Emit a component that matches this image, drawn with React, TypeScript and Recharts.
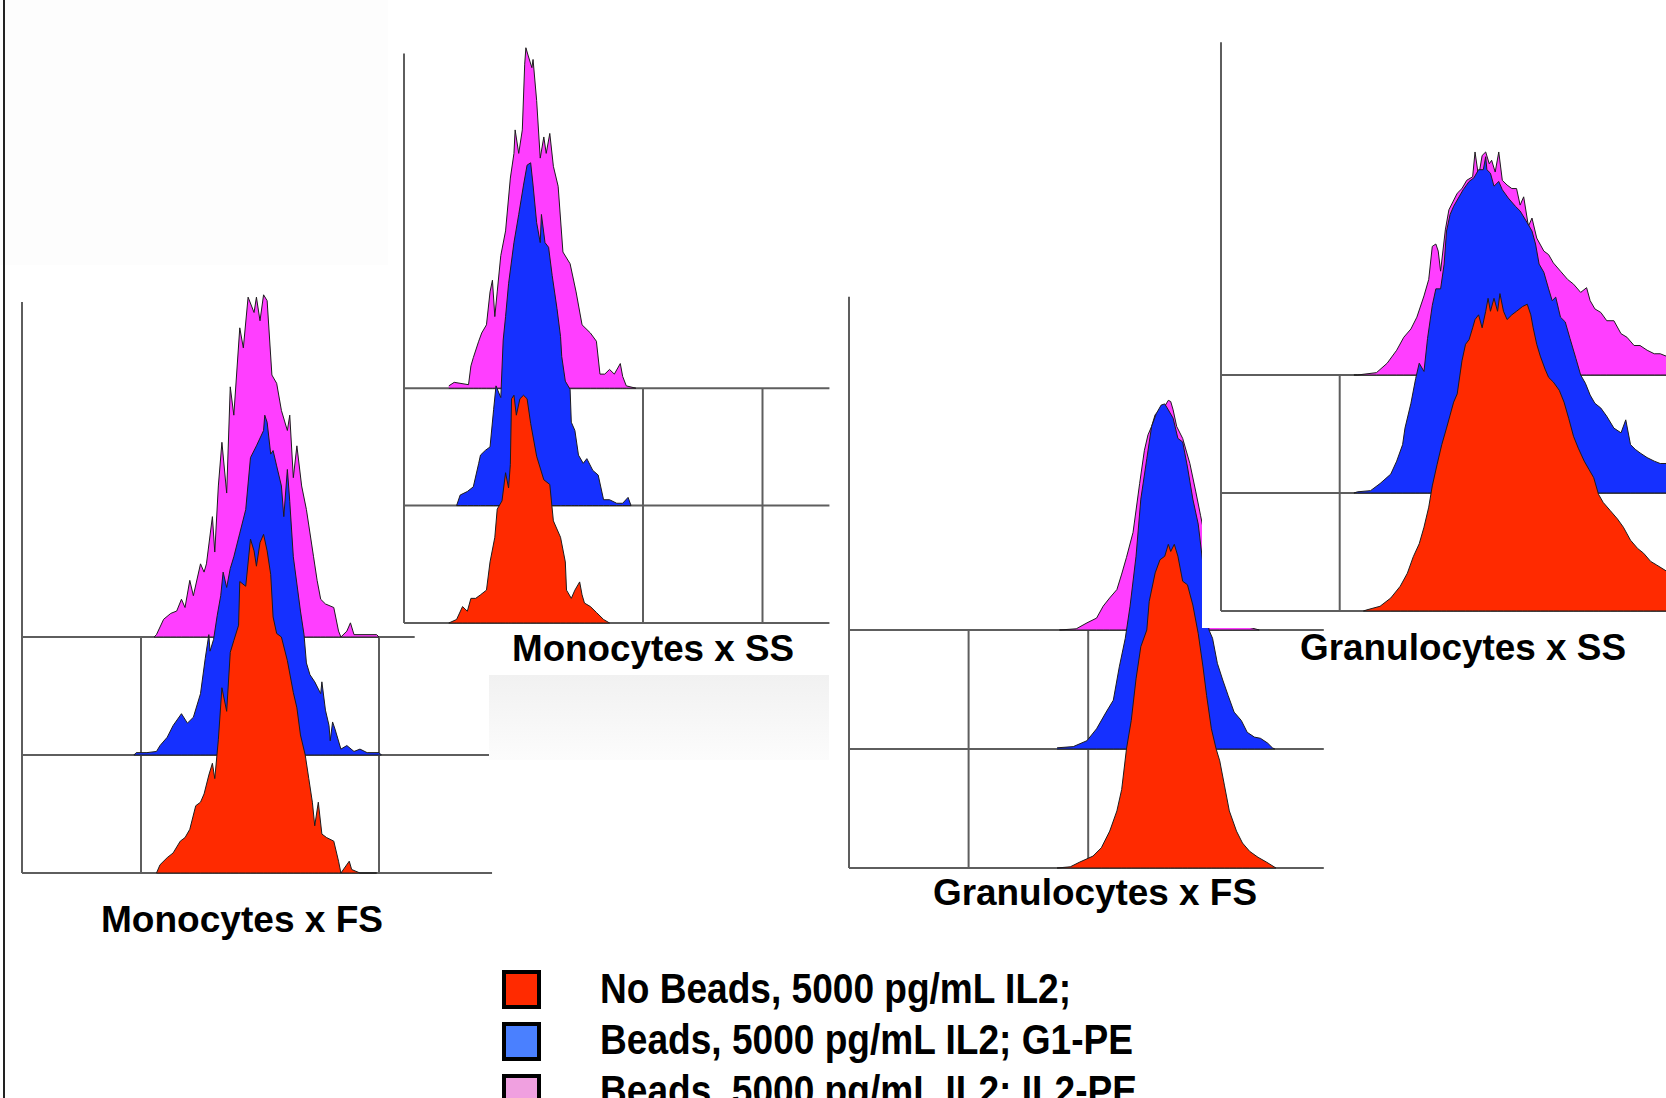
import React from 'react';
import { AreaChart, Area, XAxis, YAxis, ReferenceLine } from 'recharts';

const RED = '#ff2a00';
const BLUE = '#1530ff';
const PINK = '#ff3eff';
const GRID = '#5e5e5e';
const OUTLINE = '#1c1c1c';

type Pt = [number, number];

// x = log decade, y = events (100 events = one band of the overlay)
const monoFsNone: Pt[] = [
  [1.13, 0], [1.16, 7], [1.22, 13], [1.27, 17], [1.33, 27], [1.37, 30], [1.41, 37], [1.46, 57], [1.5, 60],
  [1.53, 67], [1.57, 83], [1.6, 93], [1.62, 80], [1.65, 113], [1.68, 157], [1.72, 137], [1.75, 187],
  [1.78, 197], [1.82, 210], [1.83, 247], [1.88, 243], [1.92, 283], [1.95, 273], [1.97, 260], [2.0, 280],
  [2.03, 287], [2.06, 273], [2.09, 253], [2.11, 217], [2.14, 203], [2.18, 200], [2.23, 180], [2.28, 153],
  [2.31, 140], [2.34, 117], [2.38, 100], [2.41, 80], [2.44, 60], [2.46, 40], [2.49, 60], [2.52, 33],
  [2.56, 30], [2.62, 27], [2.66, 10], [2.68, 0], [2.75, 10], [2.77, 3], [2.84, 0], [2.98, 0],
];
const monoFsG1: Pt[] = [
  [0.94, 0], [0.96, 2], [1.05, 2], [1.13, 3], [1.16, 8], [1.22, 15], [1.27, 25], [1.34, 35], [1.39, 27],
  [1.44, 32], [1.5, 52], [1.54, 82], [1.57, 102], [1.58, 88], [1.61, 98], [1.64, 118], [1.67, 135],
  [1.69, 155], [1.72, 142], [1.75, 158], [1.78, 168], [1.83, 188], [1.88, 208], [1.92, 252], [1.97, 262],
  [2.03, 275], [2.04, 288], [2.06, 282], [2.09, 255], [2.11, 258], [2.14, 245], [2.18, 228], [2.2, 202],
  [2.23, 242], [2.25, 215], [2.28, 168], [2.34, 122], [2.37, 102], [2.39, 78], [2.42, 68], [2.46, 62],
  [2.51, 52], [2.52, 62], [2.55, 38], [2.58, 25], [2.59, 12], [2.61, 28], [2.63, 22], [2.68, 5], [2.73, 8],
  [2.79, 3], [2.84, 5], [2.9, 2], [3.0, 2], [3.02, 0],
];
const monoFsIl2: Pt[] = [
  [1.11, 0], [1.13, 2], [1.19, 15], [1.25, 20], [1.3, 22], [1.34, 32], [1.37, 25], [1.41, 48], [1.44, 35],
  [1.5, 62], [1.53, 55], [1.55, 62], [1.6, 102], [1.62, 72], [1.65, 128], [1.68, 165], [1.72, 122],
  [1.75, 212], [1.78, 188], [1.83, 262], [1.86, 245], [1.9, 288], [1.95, 275], [1.97, 288], [2.0, 268],
  [2.03, 290], [2.06, 285], [2.1, 222], [2.14, 215], [2.18, 192], [2.23, 175], [2.25, 188], [2.28, 135],
  [2.31, 162], [2.35, 128], [2.39, 108], [2.45, 68], [2.48, 48], [2.51, 32], [2.55, 28], [2.62, 25],
  [2.66, 5], [2.68, 0], [2.73, 5], [2.76, 12], [2.79, 2], [2.98, 2], [3.0, 0],
];

const monoSsNone: Pt[] = [
  [0.375, 0], [0.44, 3], [0.49, 14], [0.53, 10], [0.56, 21], [0.6, 21], [0.64, 24], [0.69, 28], [0.72, 52],
  [0.76, 73], [0.78, 97], [0.82, 104], [0.85, 128], [0.875, 115], [0.89, 135], [0.9, 191], [0.92, 194],
  [0.94, 177], [0.97, 191], [1.0, 194], [1.03, 191], [1.06, 170], [1.11, 142], [1.17, 122], [1.22, 118],
  [1.25, 87], [1.31, 73], [1.35, 52], [1.36, 28], [1.4, 21], [1.43, 28], [1.47, 35], [1.49, 24], [1.51, 17],
  [1.56, 14], [1.61, 9], [1.67, 3], [1.72, 0],
];
const monoSsG1: Pt[] = [
  [0.44, 0], [0.47, 9], [0.53, 12], [0.58, 16], [0.625, 36], [0.64, 43], [0.68, 47], [0.72, 50], [0.75, 82],
  [0.77, 102], [0.81, 92], [0.83, 141], [0.85, 161], [0.875, 189], [0.92, 224], [0.96, 248], [1.0, 273],
  [1.03, 290], [1.06, 292], [1.08, 273], [1.11, 241], [1.14, 224], [1.15, 248], [1.18, 224], [1.21, 220],
  [1.24, 196], [1.28, 168], [1.31, 144], [1.32, 127], [1.35, 106], [1.39, 99], [1.4, 71], [1.43, 64],
  [1.46, 43], [1.5, 36], [1.53, 40], [1.58, 30], [1.625, 26], [1.67, 5], [1.72, 5], [1.78, 2], [1.83, 2],
  [1.875, 7], [1.9, 0],
];
const monoSsIl2: Pt[] = [
  [0.375, 2], [0.42, 5], [0.54, 3], [0.56, 19], [0.58, 26], [0.625, 40], [0.65, 47], [0.69, 54], [0.72, 82],
  [0.74, 92], [0.76, 61], [0.78, 82], [0.81, 113], [0.85, 134], [0.89, 179], [0.92, 200], [0.93, 220],
  [0.96, 200], [0.99, 220], [1.01, 276], [1.02, 290], [1.04, 283], [1.07, 273], [1.08, 280], [1.11, 245],
  [1.14, 196], [1.17, 214], [1.19, 200], [1.22, 217], [1.25, 189], [1.29, 172], [1.33, 116], [1.39, 106],
  [1.44, 82], [1.49, 54], [1.56, 47], [1.61, 40], [1.64, 12], [1.68, 12], [1.72, 16], [1.76, 12],
  [1.81, 21], [1.83, 10], [1.86, 2], [1.94, 0],
];

const granFsNone: Pt[] = [
  [1.74, 0], [1.85, 1], [1.93, 5], [2.04, 10], [2.11, 17], [2.18, 31], [2.24, 48], [2.28, 66], [2.32, 100],
  [2.36, 124], [2.4, 159], [2.44, 186], [2.49, 200], [2.51, 224], [2.56, 248], [2.6, 259], [2.64, 262],
  [2.67, 272], [2.69, 266], [2.72, 272], [2.75, 262], [2.79, 241], [2.83, 238], [2.875, 221], [2.92, 197],
  [2.96, 169], [2.99, 145], [3.03, 117], [3.07, 100], [3.1, 90], [3.14, 69], [3.18, 48], [3.24, 31],
  [3.29, 21], [3.35, 14], [3.42, 9], [3.49, 5], [3.57, 0],
];
const granFsG1: Pt[] = [
  [1.74, 1], [1.875, 2], [1.99, 7], [2.07, 17], [2.15, 31], [2.21, 41], [2.26, 69], [2.31, 93], [2.35, 120],
  [2.4, 162], [2.44, 210], [2.49, 244], [2.53, 271], [2.57, 282], [2.61, 289], [2.64, 290], [2.67, 285],
  [2.71, 278], [2.75, 261], [2.79, 258], [2.83, 237], [2.875, 210], [2.92, 189], [2.96, 155], [2.99, 127],
  [3.01, 100], [3.04, 93], [3.08, 72], [3.125, 58], [3.17, 45], [3.22, 31], [3.28, 24], [3.33, 14],
  [3.39, 10], [3.44, 9], [3.5, 5], [3.54, 1], [3.56, 0],
];
const granFsIl2: Pt[] = [
  [1.76, 0], [1.9, 1], [1.99, 6], [2.07, 10], [2.125, 20], [2.18, 27], [2.24, 34], [2.28, 47], [2.32, 61],
  [2.375, 82], [2.43, 123], [2.47, 151], [2.5, 164], [2.53, 171], [2.56, 181], [2.6, 185], [2.64, 188],
  [2.67, 193], [2.69, 192], [2.71, 185], [2.74, 171], [2.79, 161], [2.85, 140], [2.9, 116], [2.94, 96],
  [3.01, 61], [3.1, 34], [3.21, 13], [3.32, 3], [3.43, 0],
];

const granSsNone: Pt[] = [
  [1.2, 0], [1.23, 1], [1.34, 4], [1.43, 11], [1.51, 21], [1.57, 32], [1.62, 46], [1.67, 57], [1.71, 71],
  [1.75, 88], [1.78, 106], [1.82, 124], [1.86, 141], [1.9, 155], [1.93, 166], [1.96, 177], [1.99, 184],
  [2.03, 212], [2.06, 226], [2.09, 230], [2.12, 240], [2.14, 247], [2.17, 251], [2.2, 240], [2.23, 254],
  [2.25, 265], [2.27, 254], [2.3, 265], [2.33, 254], [2.35, 269], [2.38, 254], [2.41, 247], [2.45, 251],
  [2.49, 254], [2.54, 258], [2.58, 260], [2.61, 251], [2.63, 240], [2.66, 226], [2.69, 216], [2.73, 205],
  [2.76, 198], [2.8, 194], [2.85, 187], [2.89, 177], [2.93, 163], [2.97, 148], [3.01, 138], [3.06, 127],
  [3.1, 120], [3.14, 113], [3.18, 99], [3.22, 92], [3.28, 85], [3.34, 78], [3.39, 71], [3.45, 60],
  [3.51, 53], [3.56, 49], [3.62, 42], [3.67, 39], [3.75, 34], [3.85, 28], [3.95, 22],
];
const granSsG1: Pt[] = [
  [1.12, 0], [1.15, 1], [1.26, 2], [1.34, 8], [1.43, 16], [1.48, 27], [1.53, 41], [1.55, 55], [1.6, 76],
  [1.64, 97], [1.67, 110], [1.71, 103], [1.74, 131], [1.78, 159], [1.81, 173], [1.85, 173], [1.88, 194],
  [1.9, 222], [1.93, 236], [1.96, 243], [2.0, 250], [2.04, 257], [2.09, 264], [2.13, 267], [2.17, 274],
  [2.21, 274], [2.23, 285], [2.24, 274], [2.27, 271], [2.3, 260], [2.34, 264], [2.37, 257], [2.42, 250],
  [2.48, 243], [2.52, 239], [2.58, 229], [2.62, 222], [2.65, 211], [2.68, 194], [2.72, 187], [2.76, 173],
  [2.79, 163], [2.82, 166], [2.86, 149], [2.9, 145], [2.94, 131], [2.99, 114], [3.03, 100], [3.07, 93],
  [3.11, 83], [3.15, 76], [3.2, 72], [3.25, 65], [3.31, 55], [3.37, 51], [3.41, 62], [3.45, 41], [3.49, 37],
  [3.53, 34], [3.59, 30], [3.65, 27], [3.7, 25], [3.75, 25], [3.85, 20], [3.95, 15],
];
const granSsIl2: Pt[] = [
  [1.12, 0], [1.15, 0], [1.23, 1], [1.31, 2], [1.4, 10], [1.48, 21], [1.54, 32], [1.6, 39], [1.65, 49],
  [1.71, 67], [1.75, 81], [1.78, 109], [1.81, 111], [1.83, 105], [1.85, 88], [1.89, 123], [1.92, 140],
  [1.99, 154], [2.03, 158], [2.07, 165], [2.12, 168], [2.14, 189], [2.17, 168], [2.2, 186], [2.23, 189],
  [2.26, 179], [2.28, 182], [2.31, 172], [2.34, 189], [2.37, 165], [2.41, 161], [2.45, 158], [2.49, 158],
  [2.52, 144], [2.55, 151], [2.59, 126], [2.62, 133], [2.66, 116], [2.72, 105], [2.76, 102], [2.8, 95],
  [2.86, 88], [2.92, 81], [2.97, 77], [3.03, 70], [3.08, 74], [3.11, 63], [3.15, 56], [3.2, 53], [3.25, 46],
  [3.31, 46], [3.37, 35], [3.42, 32], [3.48, 25], [3.53, 25], [3.59, 21], [3.65, 18], [3.7, 18], [3.75, 16],
  [3.85, 12], [3.95, 8],
];

const titles = ['Monocytes x FS', 'Monocytes x SS', 'Granulocytes x FS', 'Granulocytes x SS'];
const legendLabels = [
  'No Beads, 5000 pg/mL IL2;',
  'Beads, 5000 pg/mL IL2; G1-PE',
  'Beads, 5000 pg/mL IL2; IL2-PE',
];
const legendColors = ['#ff2a00', '#4a80ff', '#f0a0e0'];

const PAD = 4;

function toRows(pts: Pt[], offset: number) {
  return pts.map(([x, c]) => ({ x, v: [offset, offset + c / 100] }));
}

interface PanelProps {
  left: number;
  bottom: number;
  unit: number;
  band: number;
  red: Pt[];
  blue: Pt[];
  pink: Pt[];
  axisTop: number;
  hEnds: number[];
}

function Panel({ left, bottom, unit, band, red, blue, pink, axisTop, hEnds }: PanelProps) {
  const w = 4 * unit;
  const h = 5 * band;
  const line = { stroke: GRID, strokeWidth: 2, ifOverflow: 'visible' as const };
  return (
    <div style={{ position: 'absolute', left: left - PAD, top: bottom - h - PAD }}>
      <AreaChart width={w + 2 * PAD} height={h + 2 * PAD} margin={{ top: PAD, right: PAD, bottom: PAD, left: PAD }}>
        <XAxis type="number" dataKey="x" domain={[0, 4]} hide />
        <YAxis type="number" domain={[0, 5]} hide />
        {[1, 2, 3].map((d) => (
          <ReferenceLine key={`v${d}`} segment={[{ x: d, y: 0 }, { x: d, y: 2 }]} {...line} zIndex={-10} />
        ))}
        {hEnds.map((end, i) => (
          <ReferenceLine key={`h${i}`} segment={[{ x: 0, y: i }, { x: end, y: i }]} {...line} zIndex={-10} />
        ))}
        <ReferenceLine segment={[{ x: 0, y: 0 }, { x: 0, y: axisTop }]} {...line} zIndex={-10} />
        <Area data={toRows(pink, 2)} dataKey="v" type="linear" fill={PINK} fillOpacity={1}
          stroke={OUTLINE} strokeWidth={1} isAnimationActive={false} />
        <Area data={toRows(blue, 1)} dataKey="v" type="linear" fill={BLUE} fillOpacity={1}
          stroke={OUTLINE} strokeWidth={1} isAnimationActive={false} />
        <Area data={toRows(red, 0)} dataKey="v" type="linear" fill={RED} fillOpacity={1}
          stroke={OUTLINE} strokeWidth={1} isAnimationActive={false} />
      </AreaChart>
    </div>
  );
}

const TITLE_FONT = "'Liberation Sans', Arial, Helvetica, sans-serif";
const LEGEND_FONT = "'Liberation Sans Narrow', 'Arial Narrow', 'Liberation Sans', Arial, sans-serif";

export default function App() {
  const titleSpots = [
    { x: 101, y: 932, w: 282 },
    { x: 512, y: 661, w: 282 },
    { x: 933, y: 905, w: 324 },
    { x: 1300, y: 660, w: 326 },
  ];
  const legendW = [471, 533, 537];
  return (
    <div style={{ position: 'absolute', left: 0, top: 0, width: 1666, height: 1098, overflow: 'hidden', background: '#fff' }}>
      <div style={{ position: 'absolute', left: 0, top: 0, width: 388, height: 265, background: '#fdfdfd' }} />
      <Panel left={21.5} bottom={873.4} unit={119} band={118} red={monoFsNone} blue={monoFsG1} pink={monoFsIl2}
        axisTop={4.84} hEnds={[3.95, 3.95, 3.3]} />
      <Panel left={403.75} bottom={622.6} unit={119.5} band={117.4} red={monoSsNone} blue={monoSsG1} pink={monoSsIl2}
        axisTop={4.85} hEnds={[3.56, 3.56, 3.56]} />
      <div style={{ position: 'absolute', left: 489, top: 675, width: 340, height: 85,
        background: 'linear-gradient(#f1f1f1, #fcfcfc)' }} />
      <Panel left={849} bottom={868} unit={119.6} band={119} red={granFsNone} blue={granFsG1} pink={granFsIl2}
        axisTop={4.8} hEnds={[3.97, 3.97, 3.97]} />
      <div style={{ position: 'absolute', left: 1202, top: 0, width: 464, height: 628, background: '#fff' }} />
      <Panel left={1220.7} bottom={611} unit={118.7} band={118} red={granSsNone} blue={granSsG1} pink={granSsIl2}
        axisTop={4.82} hEnds={[4, 4, 4]} />
      <div style={{ position: 'absolute', left: 3, top: 0, width: 2, height: 1098, background: '#222' }} />
      <svg width={1666} height={1098} style={{ position: 'absolute', left: 0, top: 0, pointerEvents: 'none' }}>
        {titles.map((t, i) => (
          <text key={t} x={titleSpots[i].x} y={titleSpots[i].y} fontFamily={TITLE_FONT} fontWeight="bold"
            fontSize={36} fill="#000" textLength={titleSpots[i].w} lengthAdjust="spacingAndGlyphs">
            {t}
          </text>
        ))}
        {legendLabels.map((label, i) => (
          <g key={label}>
            <rect x={504} y={972 + i * 52} width={35} height={35} fill={legendColors[i]} stroke="#000" strokeWidth={4} />
            <text x={600} y={1003 + i * 51} fontFamily={LEGEND_FONT} fontWeight="bold" fontSize={43} fill="#000"
              textLength={legendW[i]} lengthAdjust="spacingAndGlyphs">
              {label}
            </text>
          </g>
        ))}
      </svg>
    </div>
  );
}
